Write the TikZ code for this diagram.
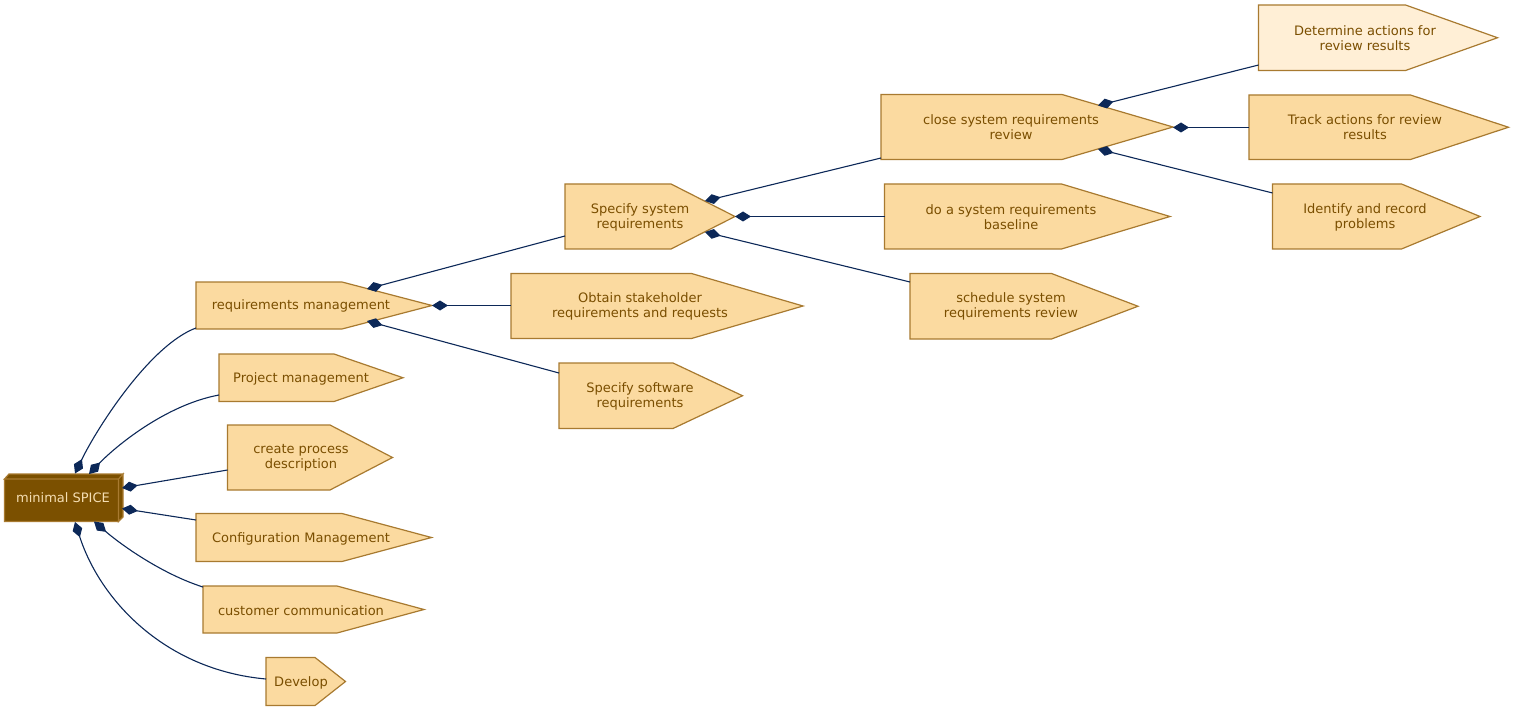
\documentclass[tikz,border=0pt]{standalone}
\usepackage{fontspec}
\setmainfont{DejaVu Sans}
\usetikzlibrary{arrows.meta}
\definecolor{pfill}{RGB}{251,218,160}
\definecolor{plight}{RGB}{255,239,214}
\definecolor{pborder}{RGB}{168,122,48}
\definecolor{ptext}{RGB}{122,78,0}
\definecolor{boxfill}{RGB}{123,80,0}
\definecolor{boxtext}{RGB}{245,222,179}
\definecolor{edgec}{RGB}{12,40,88}
\tikzset{
  pent/.style={draw=pborder, line width=1.2pt, fill=pfill, line join=miter},
  lbl/.style={font=\fontsize{13}{15}\selectfont, text=ptext, align=center, inner sep=0pt},
  link/.style={draw=edgec, line width=1.1pt, {Diamond[length=16pt,width=10pt]}-},
}
\newcommand{\drawpent}[6][pfill]{\path[pent, fill=#1] (#2,#3) -- (#5,#3) -- (#6,{(#3+#4)/2}) -- (#5,#4) -- (#2,#4) -- cycle;}
\begin{document}
\begin{tikzpicture}[x=1pt,y=-1pt]
\useasboundingbox (0,0) rectangle (1514,711);
% 3D box
\path[draw=pborder, line width=1.2pt, fill=boxfill, line join=miter]
  (4.5,479) -- (9,474) -- (123,474) -- (118.5,479) -- cycle
  (118.5,479) -- (123,474) -- (123,517) -- (118.5,521.5) -- cycle
  (4.5,479) rectangle (118.5,521.5);
\node[lbl, text=boxtext] (box) at (63,498) {minimal SPICE};
% pentagons
\drawpent{196}{282}{329}{342}{432}
\drawpent{219}{354}{401.5}{334}{403}
\drawpent{227.5}{425}{490}{330}{392.5}
\drawpent{196}{513.5}{561.5}{342}{431.5}
\drawpent{203}{586}{633}{337}{424}
\drawpent{266}{657.5}{705.5}{315}{345.5}
\drawpent{511}{273.5}{338.5}{691.5}{803}
\drawpent{559}{363}{428.5}{673}{742.5}
\drawpent{565}{184}{249}{671}{735}
\drawpent{881}{94.5}{159.5}{1062}{1173}
\drawpent{884.5}{184}{249}{1061.5}{1170}
\drawpent{910}{273.5}{339}{1051.5}{1138}
\drawpent[plight]{1258.5}{5}{70.5}{1405.5}{1497.5}
\drawpent{1249}{95}{159.5}{1410.5}{1508.5}
\drawpent{1272.5}{184}{249}{1401.5}{1480}
% labels
\node[lbl] (rm) at (301,306) {requirements management};
\node[lbl] (pm) at (301,378.5) {Project management};
\node[lbl] (cp) at (301,458) {create process\\description};
\node[lbl] (cm) at (301,538.5) {Configuration Management};
\node[lbl] (cc) at (301,610.5) {customer communication};
\node[lbl] (dv) at (301,682.5) {Develop};
\node[lbl] (ob) at (640,306) {Obtain stakeholder\\requirements and requests};
\node[lbl] (sw) at (640,396) {Specify software\\requirements};
\node[lbl] (ss) at (640,217) {Specify system\\requirements};
\node[lbl] (cr) at (1011,127.5) {close system requirements\\review};
\node[lbl] (bl) at (1011,217) {do a system requirements\\baseline};
\node[lbl] (sc) at (1011,306.5) {schedule system\\requirements review};
\node[lbl] (de) at (1365,38) {Determine actions for\\review results};
\node[lbl] (tr) at (1365,127.5) {Track actions for review\\results};
\node[lbl] (id) at (1365,217) {Identify and record\\problems};
% edge end points
\coordinate (rm-u) at (367,289);   \coordinate (ss-in) at (565,236);
\coordinate (rm-t) at (432,305.5); \coordinate (ob-in) at (511,305.5);
\coordinate (rm-d) at (367,321);   \coordinate (sw-in) at (559,373);
\coordinate (ss-u) at (705,201);   \coordinate (cr-in) at (881,158);
\coordinate (ss-t) at (735,216.5); \coordinate (bl-in) at (884.5,216.5);
\coordinate (ss-d) at (705,232);   \coordinate (sc-in) at (910,282);
\coordinate (cr-u) at (1098,105.5);\coordinate (de-in) at (1258.5,65);
\coordinate (cr-t) at (1173,127.5);\coordinate (tr-in) at (1249,127.5);
\coordinate (cr-d) at (1098,149);  \coordinate (id-in) at (1272.5,193);
\coordinate (b1) at (75,473.5);    \coordinate (rm-in) at (196,328);
\coordinate (b2) at (89,474);      \coordinate (pm-in) at (219,395);
\coordinate (b3) at (122,488);     \coordinate (cp-in) at (227.5,470);
\coordinate (b4) at (122,508.5);   \coordinate (cm-in) at (196,520);
\coordinate (b5) at (94,521.5);    \coordinate (cc-in) at (203,587);
\coordinate (b6) at (75,522);      \coordinate (dv-in) at (266,679);
% edges
\draw[link] (rm-u) -- (ss-in);
\draw[link] (rm-t) -- (ob-in);
\draw[link] (rm-d) -- (sw-in);
\draw[link] (ss-u) -- (cr-in);
\draw[link] (ss-t) -- (bl-in);
\draw[link] (ss-d) -- (sc-in);
\draw[link] (cr-u) -- (de-in);
\draw[link] (cr-t) -- (tr-in);
\draw[link] (cr-d) -- (id-in);
\draw[link] (b1) .. controls (97,428) and (150,345) .. (rm-in);
\draw[link] (b2) .. controls (115,447) and (165,405) .. (pm-in);
\draw[link] (b3) -- (cp-in);
\draw[link] (b4) -- (cm-in);
\draw[link] (b5) .. controls (125,548) and (165,575) .. (cc-in);
\draw[link] (b6) .. controls (100,600) and (165,670) .. (dv-in);
\end{tikzpicture}
\end{document}
